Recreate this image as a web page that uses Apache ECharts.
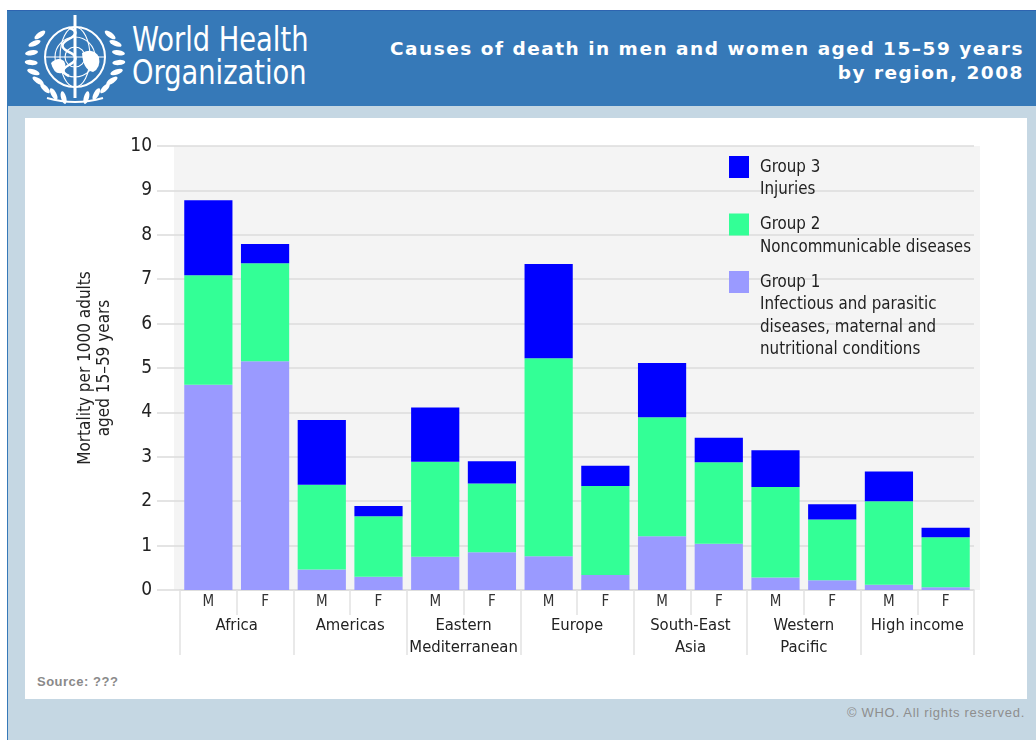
<!DOCTYPE html>
<html>
<head>
<meta charset="utf-8">
<script src="https://cdn.jsdelivr.net/npm/echarts@6/dist/echarts.min.js"></script>
<style>
  html, body { margin:0; padding:0; width:1036px; height:740px; background:#fff; overflow:hidden; }
  #hdr { position:absolute; left:7px; top:10px; width:1029px; height:96px; background:#3679b8; border-top:1px solid #2e64b0; box-sizing:border-box; }
  #frame { position:absolute; left:7px; top:106px; width:1029px; height:634px; background:#c5d7e3; border-left:1px solid #3679b8; box-sizing:border-box; }
  #panel { position:absolute; left:25px; top:118px; width:1002px; height:581px; background:#fff; }
  #org { position:absolute; left:132px; top:23px; color:#fff; font-family:'DejaVu Sans Condensed','DejaVu Sans',sans-serif; font-size:33px; line-height:33px; transform:scaleX(0.92); transform-origin:0 0; white-space:nowrap; }
  #title { position:absolute; right:12px; top:37px; color:#fff; text-align:right; font-family:'DejaVu Sans',sans-serif; font-weight:bold; font-size:18.5px; line-height:24px; letter-spacing:1.5px; white-space:nowrap; }
  #source { position:absolute; left:37px; top:674px; color:#8a8a8a; font-family:'Liberation Sans',sans-serif; font-weight:bold; font-size:13px; letter-spacing:0.5px; }
  #copy { position:absolute; right:11px; top:705px; color:#8e8e8e; font-family:'Liberation Sans',sans-serif; font-size:13px; letter-spacing:0.7px; }
  #logo { position:absolute; left:22px; top:12px; }
  #chart { position:absolute; left:0; top:0; width:1036px; height:740px; }
</style>
</head>
<body>
<div id="hdr"></div>
<div id="frame"></div>
<div id="panel"></div>
<svg id="logo" width="106" height="92" viewBox="0 0 106 92"></svg>
<div id="org">World Health<br>Organization</div>
<div id="title">Causes of death in men and women aged 15–59 years<br>by region, 2008</div>
<div id="source">Source: ???</div>
<div id="copy">© WHO. All rights reserved.</div>
<div id="chart"></div>
<script>
// ---------- data ----------
var regions = ['Africa', 'Americas', 'Eastern\nMediterranean', 'Europe', 'South-East\nAsia', 'Western\nPacific', 'High income'];
var sexes = ['M', 'F'];
var yTicks = [0, 1, 2, 3, 4, 5, 6, 7, 8, 9, 10];
var seriesNames = ['Group 1', 'Group 2', 'Group 3'];
var seriesDesc = [
  'Infectious and parasitic\ndiseases, maternal and\nnutritional conditions',
  'Noncommunicable diseases',
  'Injuries'
];
// values per bar in order Africa M, Africa F, Americas M, Americas F, ...
var group1 = [4.62, 5.15, 0.46, 0.30, 0.75, 0.85, 0.76, 0.34, 1.21, 1.04, 0.28, 0.22, 0.12, 0.06];
var group2 = [2.47, 2.21, 1.91, 1.36, 2.14, 1.55, 4.46, 2.00, 2.68, 1.84, 2.04, 1.37, 1.88, 1.13];
var group3 = [1.69, 0.43, 1.46, 0.23, 1.22, 0.50, 2.12, 0.46, 1.22, 0.55, 0.83, 0.34, 0.67, 0.21];

// ---------- logo (decorative emblem) ----------
(function () {
  var svg = document.getElementById('logo');
  var ns = 'http://www.w3.org/2000/svg';
  var cx = 53, cy = 45;
  function el(tag, attrs) { var e = document.createElementNS(ns, tag); for (var k in attrs) e.setAttribute(k, attrs[k]); svg.appendChild(e); return e; }
  el('circle', {cx:cx, cy:cy, r:30, fill:'none', stroke:'#fff', 'stroke-width':2});
  el('circle', {cx:cx, cy:cy, r:20, fill:'none', stroke:'#fff', 'stroke-width':1.1});
  el('circle', {cx:cx, cy:cy, r:10, fill:'none', stroke:'#fff', 'stroke-width':1.1});
  el('ellipse', {cx:cx, cy:cy, rx:15, ry:30, fill:'none', stroke:'#fff', 'stroke-width':1.1});
  el('line', {x1:cx-30, y1:cy, x2:cx+30, y2:cy, stroke:'#fff', 'stroke-width':1.1});
  el('path', {d:'M'+(cx-24)+','+(cy+6)+' q7,-7 13,-2 q4,7 -2,12 q-8,2 -11,-10z', fill:'#fff'});
  el('path', {d:'M'+(cx+7)+','+(cy-4)+' q11,-6 17,4 q2,11 -6,15 q-10,-2 -11,-19z', fill:'#fff'});
  el('line', {x1:cx, y1:3, x2:cx, y2:86, stroke:'#fff', 'stroke-width':3});
  el('path', {d:'M'+(cx-6)+',16 q13,4 0,11 q-13,7 0,13 q13,6 0,13 q-11,6 0,11', fill:'none', stroke:'#fff', 'stroke-width':2.5});
  for (var side = -1; side <= 1; side += 2) {
    for (var i = 0; i < 9; i++) {
      var th = (165 - i * 14) * Math.PI / 180;
      var x = cx + side * 44 * Math.sin(th), y = cy + 2 - 40 * Math.cos(th);
      var rot = side * (180 - (165 - i * 14)) * -1 + (side > 0 ? 0 : 0);
      var deg = (side > 0 ? 1 : -1) * (165 - i * 14 - 90);
      el('ellipse', {cx:x, cy:y, rx:2.6, ry:6.5, fill:'#fff', transform:'rotate(' + (side > 0 ? -(165 - i * 14) + 180 : (165 - i * 14) - 180) + ' ' + x + ' ' + y + ')'});
    }
  }
  el('path', {d:'M'+(cx-28)+',86 q28,8 56,0', fill:'none', stroke:'#fff', 'stroke-width':2});
})();

// ---------- chart ----------
var colors = ['#9a9aff', '#33ff96', '#0000ff'];
var catLabels = [];
regions.forEach(function () { sexes.forEach(function (s) { catLabels.push(s); }); });
var values = [group1, group2, group3];
var condensed = "'DejaVu Sans Condensed','DejaVu Sans',sans-serif";

var chart = echarts.init(document.getElementById('chart'), null, {renderer: 'canvas'});
var gridLeft = 180, gridRight = 62, gridTop = 146, gridBottom = 150;

function legendGraphics() {
  var g = [];
  var order = [2, 1, 0];
  var y = 156;
  order.forEach(function (si) {
    g.push({type:'rect', left:729, top:y, shape:{width:20, height:22}, style:{fill:colors[si]}, z:10});
    var txt = seriesNames[si] + '\n' + seriesDesc[si];
    g.push({type:'text', left:760, top:y, style:{text:txt, fill:'#222', font:'16.8px ' + condensed, lineHeight:22.5}, z:10});
    var lines = txt.split('\n').length;
    y += lines * 22.5 + 12.5;
  });
  return g;
}

var option = {
  animation: false,
  textStyle: {fontFamily: condensed},
  grid: {left: gridLeft, right: gridRight, top: gridTop, bottom: gridBottom, containLabel: false},
  xAxis: [
    {
      type: 'category', data: catLabels, position: 'bottom',
      axisLine: {show: true, lineStyle: {color: '#dcdcdc', width: 1.5}},
      axisTick: {show: true, interval: 0, length: 25, lineStyle: {color: '#e2e2e2', width: 1.5}},
      axisLabel: {interval: 0, margin: 5, fontSize: 15, color: '#333', fontFamily: condensed}
    },
    {
      type: 'category', data: regions, position: 'bottom',
      axisLine: {show: false},
      axisTick: {show: true, interval: 0, length: 65, lineStyle: {color: '#e2e2e2', width: 1.5}},
      axisLabel: {interval: 0, margin: 25, fontSize: 16.5, lineHeight: 22, color: '#222', fontFamily: condensed}
    }
  ],
  yAxis: {
    type: 'value', min: yTicks[0], max: yTicks[yTicks.length - 1], interval: 1,
    name: 'Mortality per 1000 adults\naged 15–59 years',
    nameLocation: 'middle', nameGap: 66, nameRotate: 90,
    nameTextStyle: {fontSize: 17, lineHeight: 19, color: '#222', fontFamily: condensed},
    axisLine: {show: false},
    axisTick: {show: true, length: 23, lineStyle: {color: '#dcdcdc', width: 1.5}},
    axisLabel: {margin: 28, fontSize: 19, color: '#222', fontFamily: condensed},
    splitLine: {show: true, lineStyle: {color: '#dcdcdc', width: 1.5}}
  },
  series: values.map(function (v, i) {
    return {
      name: seriesNames[i], type: 'bar', stack: 'total', data: v,
      xAxisIndex: 0, barCategoryGap: '15%',
      itemStyle: {color: colors[i]}, z: 3
    };
  }),
  graphic: []
};
chart.setOption(option);

// plot background slightly wider than the axis extent
var p0 = chart.convertToPixel({xAxisIndex: 0, yAxisIndex: 0}, [0, yTicks[yTicks.length - 1]]);
var p1 = chart.convertToPixel({xAxisIndex: 0, yAxisIndex: 0}, [catLabels.length - 1, yTicks[0]]);
var half = (p1[0] - p0[0]) / (catLabels.length - 1) / 2;
var bgLeft = p0[0] - half - 6, bgRight = p1[0] + half + 6;
var graphics = [{type: 'rect', shape: {x: bgLeft, y: p0[1], width: bgRight - bgLeft, height: p1[1] - p0[1]}, style: {fill: '#f4f4f4'}, z: -10, silent: true}];
chart.setOption({graphic: graphics.concat(legendGraphics())});
</script>
</body>
</html>
